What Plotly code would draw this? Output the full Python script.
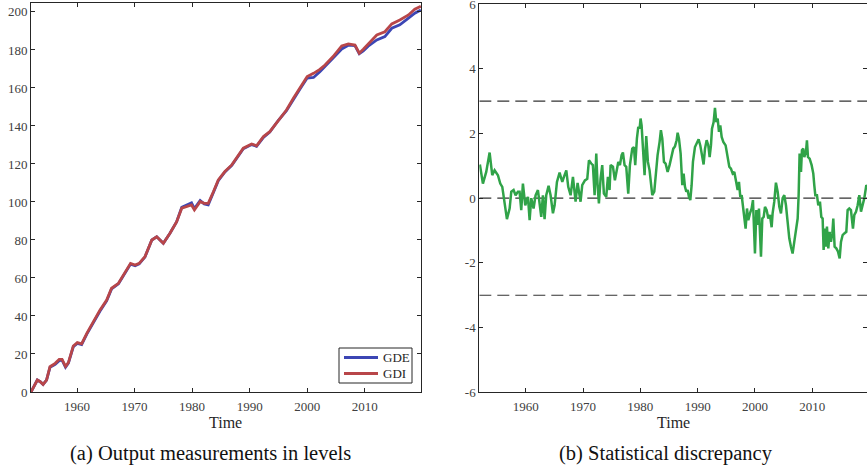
import plotly.graph_objects as go

# ---------------- data ----------------
lv_years = [1952.0, 1952.5, 1953.1, 1953.6, 1954.1, 1954.7, 1955.3, 1956.2, 1956.9, 1957.4,
            1958.0, 1958.5, 1959.35, 1960.05, 1960.8, 1961.7, 1962.8, 1964.0, 1965.15, 1966.0,
            1967.2, 1968.3, 1969.3, 1970.1, 1970.8, 1971.8, 1973.0, 1973.85, 1975.0, 1976.15,
            1977.3, 1978.2, 1979.05, 1979.9, 1980.4, 1981.4, 1982.1, 1982.8, 1983.7, 1984.55,
            1985.7, 1986.9, 1988.9, 1990.35, 1991.2, 1992.4, 1993.5, 1995.0, 1996.4, 1997.6,
            1998.75, 2000.0, 2001.1, 2002.2, 2003.1, 2004.5, 2006.0, 2007.15, 2008.3, 2009.05,
            2009.75, 2010.6, 2012.1, 2013.5, 2014.7, 2016.1, 2017.6, 2018.7, 2019.75]
gdi = [0, 3, 6.3, 5.4, 4.0, 6.3, 13.3, 15.1, 17.2, 17.2,
       13.5, 15.5, 24.2, 26, 25.3, 30.9, 37, 43.2, 48.4, 54.6,
       57.2, 62.5, 67.7, 66.8, 67.7, 71.2, 80, 81.7, 78.3, 83.5,
       89.5, 96.7, 97.5, 98.4, 95.8, 100.2, 99.3, 99.3, 105.4, 111.6,
       116, 119.5, 128.3, 130.5, 129.6, 134.4, 137, 143.2, 148.4, 154.6,
       159.8, 166, 167.7, 169.8, 172.1, 176.5, 182.1, 183.2, 182.6, 178.3,
       180.4, 183.2, 187.9, 189.6, 193.7, 195.8, 198.4, 201.4, 203.0]
gde = [0, 3, 6.3, 5.4, 4.0, 6.3, 13.0, 14.6, 16.5, 16.8,
       13.0, 15.2, 23.8, 25.6, 25.0, 30.5, 36.5, 42.6, 47.9, 54.2,
       57.0, 62.3, 67.3, 66.4, 67.4, 71.0, 80, 81.7, 78.3, 83.5,
       89.5, 97.2, 98.3, 99.5, 96.5, 100.8, 99.0, 98.5, 105.0, 111.2,
       115.8, 119.3, 128.0, 130.2, 129.3, 134.0, 136.8, 143.0, 148.0, 154.2,
       159.4, 165.2, 165.5, 168.5, 171.5, 175.8, 180.5, 182.5, 182.3, 178.0,
       179.5, 182.0, 185.3, 187.0, 191.4, 193.2, 196.7, 199.3, 201.0]

disc_years = [1952.0, 1952.53, 1953.11, 1953.70, 1954.16, 1954.57, 1955.15, 1955.56, 1955.91, 1956.31,
              1956.72, 1957.19, 1957.48, 1957.88, 1958.23, 1958.64, 1958.93, 1959.22, 1959.51, 1959.92,
              1960.39, 1960.68, 1960.97, 1961.37, 1961.72, 1962.13, 1962.42, 1962.71, 1963.00, 1963.29,
              1963.58, 1963.99, 1964.34, 1964.75, 1965.04, 1965.45, 1965.91, 1966.38, 1966.67, 1967.08,
              1967.42, 1967.83, 1968.24, 1968.70, 1969.05, 1969.35, 1969.57,
              1969.86, 1970.33, 1970.74, 1971.03, 1971.43, 1971.72, 1972.02, 1972.31, 1972.54, 1972.77,
              1973.06, 1973.35, 1973.64, 1974.05, 1974.34, 1974.63, 1974.81, 1975.22, 1975.56, 1975.86,
              1976.15, 1976.44, 1976.73, 1976.96, 1977.25, 1977.54, 1977.89, 1978.18, 1978.59, 1978.88,
              1979.11, 1979.40, 1979.64, 1979.87, 1980.04, 1980.22, 1980.51, 1980.74, 1981.03, 1981.32,
              1981.61, 1981.85, 1982.08, 1982.43, 1982.66, 1983.01, 1983.36, 1983.59, 1983.83, 1984.12,
              1984.41, 1984.76, 1985.10, 1985.45, 1985.75,
              1986.04, 1986.33, 1986.51, 1986.74, 1987.03, 1987.32, 1987.55, 1987.79, 1988.02, 1988.25,
              1988.48, 1988.72, 1988.95, 1989.18, 1989.53, 1989.88, 1990.17, 1990.46, 1990.75, 1991.04,
              1991.28, 1991.57, 1991.86, 1992.09, 1992.32, 1992.50, 1992.79, 1993.02, 1993.26, 1993.49,
              1993.72, 1993.95, 1994.19, 1994.48, 1994.88, 1995.23, 1995.52, 1995.81, 1996.11, 1996.40,
              1996.69, 1996.98, 1997.21, 1997.44, 1997.68, 1997.91, 1998.14, 1998.37, 1998.61, 1998.84,
              1999.13, 1999.42, 1999.65, 1999.83, 2000.00, 2000.24, 2000.47, 2000.70, 2000.88, 2001.05,
              2001.28, 2001.52, 2001.75, 2002.04, 2002.33, 2002.62, 2002.91,
              2003.08, 2003.37, 2003.66, 2003.96, 2004.25, 2004.54, 2004.83, 2005.12, 2005.41, 2005.70,
              2005.99, 2006.28, 2006.57, 2006.86, 2007.15, 2007.45, 2007.62, 2007.79, 2008.03, 2008.20,
              2008.43, 2008.61, 2008.90, 2009.07, 2009.25, 2009.54, 2009.89, 2010.18, 2010.35, 2010.53,
              2010.82, 2011.05, 2011.34, 2011.58, 2011.81, 2011.98, 2012.22, 2012.39, 2012.56, 2012.80,
              2013.03, 2013.26, 2013.50, 2013.67, 2013.90, 2014.19, 2014.48, 2014.78, 2015.01, 2015.30,
              2015.59, 2015.94, 2016.17, 2016.46, 2016.75, 2017.10, 2017.34, 2017.63, 2017.92, 2018.21,
              2018.50, 2018.79, 2019.08, 2019.43, 2019.66]
disc_vals = [1.04, 0.45, 0.81, 1.41, 0.71, 0.86, 0.71, 0.45, 0.35, -0.22,
             -0.65, -0.32, 0.2, 0.25, 0.09, 0.2, 0.2, -0.37, 0.45, -0.22,
             0.04, -0.68, 0.0, -0.32, 0.09, 0.25, -0.11, -0.58, 0.09, -0.65,
             0.09, 0.38, 0.09, -0.47, -0.22, 0.5, 0.79, 0.5, 0.66, 0.86,
             0.35, 0.09, 0.66, -0.11, 0.47, 0.12, -0.11,
             0.4, 0.55, 0.6, 1.17, 1.07, 1.02, 0.09, 1.38, 0.4, -0.16,
             0.6, 1.02, 0.14, 0.04, 0.66, 0.25, 1.02, 0.97, 0.55, 0.86,
             1.12, 1.02, 1.33, 1.41, 1.02, 0.97, 0.14, 1.02, 1.53, 1.58,
             1.02, 1.84, 2.2, 2.15, 2.46, 2.25, 1.43, 0.71, 1.92, 1.12,
             0.86, 0.45, 0.09, 0.2, 0.71, 1.33, 1.74, 2.1, 1.84, 1.12,
             1.07, 0.81, 1.02, 1.33, 1.53,
             1.6, 1.79, 2.02, 1.84, 1.38, 0.4, 0.76, 0.35, 0.2, 0.25,
             0.04, -0.06, 0.4, 1.12, 1.58, 1.69, 1.82, 1.63, 1.33, 1.04,
             1.53, 1.79, 1.63, 1.27, 1.63, 2.15, 2.35, 2.79, 2.35, 2.46,
             2.05, 2.25, 1.89, 1.74, 1.63, 1.27, 0.97, 0.91, 0.76, 0.81,
             0.5, 0.25, 0.5, 0.04, 0.09, -0.32, -0.52, -0.94, -0.32, -0.68,
             -0.47, -0.32, -0.06, -0.78, -1.71, -0.37, -0.83, -0.32, -1.14, -1.81,
             -0.63, -0.58, -0.27, -0.37, -0.63, -0.52, -0.9,
             -0.47, -0.11, 0.48, 0.2, -0.27, -0.47, 0.0, 0.09, -0.22, -0.73,
             -1.24, -1.5, -1.71, -1.35, -0.94, -0.63, 0.09, 1.38, 0.81, 1.48,
             1.53, 1.27, 1.43, 1.79, 1.27, 1.22, 1.02, 0.76, 0.4, 0.09,
             0.09, -0.22, -0.11, -0.58, -0.63, -1.6, -0.94, -1.5, -0.88, -1.55,
             -1.04, -1.35, -1.09, -0.63, -1.5, -1.55, -1.65, -1.86, -1.35, -1.14,
             -1.09, -1.04, -0.37, -0.32, -0.37, -0.94, -0.52, -0.42, -0.22, 0.09,
             -0.42, -0.22, 0.0, 0.4, 0.35]

bands = [3, 0, -3]
x_ticks = [1960, 1970, 1980, 1990, 2000, 2010]
left_yticks = [0, 20, 40, 60, 80, 100, 120, 140, 160, 180, 200]
right_yticks = [-6, -4, -2, 0, 2, 4, 6]
right_yticktext = ["-6", "-4", "-2", "0", "2", "4", "6"]
series_names = ["GDE", "GDI"]

# ---------------- figure ----------------
W, H = 867, 468
FONT = "Liberation Serif, Times New Roman, serif"
BLUE = "#3c46b4"
RED = "#b84649"
GREEN = "#30a348"
colors = [BLUE, RED]

fig = go.Figure()
for name, vals, col in zip(series_names, [gde, gdi], colors):
    fig.add_trace(go.Scatter(x=lv_years, y=vals, mode="lines", name=name,
                             line=dict(color=col, width=2.8), xaxis="x", yaxis="y"))
for b in bands:
    fig.add_trace(go.Scatter(x=[1951.9, 2019.75], y=[b, b], mode="lines", showlegend=False,
                             line=dict(color="#333333", width=1.2, dash="12px,6px"),
                             xaxis="x2", yaxis="y2"))
fig.add_trace(go.Scatter(x=disc_years, y=disc_vals, mode="lines", showlegend=False,
                         line=dict(color=GREEN, width=2.5), xaxis="x2", yaxis="y2"))

axis_common = dict(showline=True, linecolor="#262626", linewidth=1, mirror="ticks",
                   ticks="inside", ticklen=4, tickcolor="#262626", tickwidth=1,
                   showgrid=False, zeroline=False, automargin=False,
                   tickfont=dict(family=FONT, size=13, color="#404040"))

fig.update_layout(
    width=W, height=H,
    margin=dict(l=0, r=0, t=0, b=0, pad=0),
    paper_bgcolor="white", plot_bgcolor="white",
    font=dict(family=FONT, color="#262626"),
    xaxis=dict(domain=[31 / W, 421 / W], range=[1952.0, 2019.78], tickvals=x_ticks,
               anchor="y", ticklabelstandoff=2, **axis_common),
    yaxis=dict(domain=[(H - 392) / H, (H - 3) / H], range=[0, 204.7], tickvals=left_yticks,
               anchor="x", **axis_common),
    xaxis2=dict(domain=[479.3 / W, 1.0], range=[1951.9, 2019.55], tickvals=x_ticks,
                anchor="y2", ticklabelstandoff=2, **axis_common),
    yaxis2=dict(domain=[(H - 392.3) / H, (H - 4) / H], range=[-6, 6], tickvals=right_yticks,
                ticktext=right_yticktext, anchor="x2", ticklabeloverflow="allow",
                **axis_common),
    showlegend=False,
)

# legend box (drawn manually to match compact MATLAB legend)
lx0, lx1, ly0, ly1 = 339, 412, 348, 383
fig.add_shape(type="rect", xref="paper", yref="paper",
              x0=lx0 / W, x1=lx1 / W, y0=(H - ly1) / H, y1=(H - ly0) / H,
              line=dict(color="#262626", width=1), fillcolor="white", layer="above")
for i, (name, col) in enumerate(zip(series_names, colors)):
    yy = [357.5, 373.5][i]
    fig.add_shape(type="line", xref="paper", yref="paper",
                  x0=344 / W, x1=378 / W, y0=(H - yy) / H, y1=(H - yy) / H,
                  line=dict(color=col, width=2.8), layer="above")
    fig.add_annotation(xref="paper", yref="paper", x=381 / W, y=(H - yy) / H, text=name,
                       showarrow=False, xanchor="left", yanchor="middle",
                       font=dict(family=FONT, size=13, color="#262626"))

ann = [
    dict(text="Time", x=226 / W, y=(H - 422) / H),
    dict(text="Time", x=673.5 / W, y=(H - 422) / H),
]
for a in ann:
    fig.add_annotation(xref="paper", yref="paper", x=a["x"], y=a["y"], text=a["text"],
                       showarrow=False, xanchor="center", yanchor="middle",
                       font=dict(family=FONT, size=16, color="#262626"))
caps = [
    dict(text="(a) Output measurements in levels", x=210 / W),
    dict(text="(b) Statistical discrepancy", x=665.5 / W),
]
for c in caps:
    fig.add_annotation(xref="paper", yref="paper", x=c["x"], y=(H - 453) / H, text=c["text"],
                       showarrow=False, xanchor="center", yanchor="middle",
                       font=dict(family=FONT, size=20.5, color="#111111"))

page_css = (
    "document.documentElement.style.margin='0';"
    "document.documentElement.style.overflow='hidden';"
    "document.body.style.margin='0';"
    "document.body.style.overflow='hidden';"
)
fig.write_html("out.html", config={"displayModeBar": False}, post_script=page_css)
